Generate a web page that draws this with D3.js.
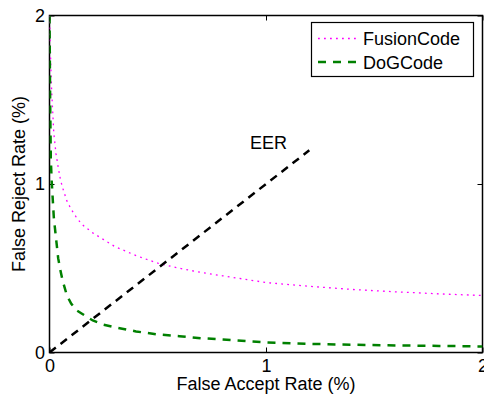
<!DOCTYPE html>
<html>
<head>
<meta charset="utf-8">
<script src="https://cdn.jsdelivr.net/npm/d3@7"></script>
<style>
  body { margin: 0; background: #fff; }
  svg { display: block; }
  text { font-family: "Liberation Sans", Arial, sans-serif; fill: #000; }
</style>
</head>
<body>
<svg id="chart" width="484" height="398"></svg>
<script>
// false accept rate grid (%)
const far = [0, 0.003, 0.006, 0.01, 0.02, 0.03, 0.04, 0.05, 0.06, 0.08, 0.1, 0.125, 0.15, 0.2, 0.25, 0.3, 0.4, 0.5, 0.6, 0.7, 0.8, 1.0, 1.2, 1.4, 1.6, 1.8, 2.0];
// false reject rate (%)
const fusionFrr = [2.0, 1.85, 1.7, 1.55, 1.3, 1.18, 1.1, 1.03, 0.98, 0.9, 0.85, 0.8, 0.76, 0.71, 0.67, 0.63, 0.575, 0.53, 0.5, 0.475, 0.455, 0.415, 0.393, 0.374, 0.36, 0.348, 0.338];
const dogFrr = [2.0, 1.5, 1.15, 1.02, 0.8, 0.68, 0.56, 0.49, 0.43, 0.34, 0.29, 0.25, 0.23, 0.19, 0.165, 0.15, 0.125, 0.107, 0.097, 0.085, 0.077, 0.06, 0.051, 0.046, 0.042, 0.039, 0.036];
const eer = [[0, 0], [1.2, 1.2]];
const ticks = [0, 1, 2];
const legendItems = ["FusionCode", "DoGCode"];

var svg = d3.select("#chart");
var mLeft = 49.5, mTop = 15.5, mRight = 482.5, mBottom = 352.5;
var fontSize = 18;

var x = d3.scaleLinear().domain([0, 2]).range([mLeft, mRight]);
var y = d3.scaleLinear().domain([0, 2]).range([mBottom, mTop]);

svg.append("clipPath").attr("id", "plotclip")
  .append("rect").attr("x", mLeft).attr("y", mTop)
  .attr("width", mRight - mLeft).attr("height", mBottom - mTop);

// axes, ticks inside like matlab
svg.append("g").attr("transform", "translate(0," + mBottom + ")")
  .call(d3.axisBottom(x).tickValues(ticks).tickSizeInner(-5).tickSizeOuter(0).tickPadding(7).tickFormat(d3.format("d")))
  .call(g => g.select(".domain").remove())
  .call(g => g.selectAll("text").attr("font-size", fontSize).attr("font-family", "Liberation Sans, Arial, sans-serif"));
svg.append("g").attr("transform", "translate(0," + mTop + ")")
  .call(d3.axisTop(x).tickValues(ticks).tickSizeInner(-5).tickSizeOuter(0).tickFormat(""))
  .call(g => g.select(".domain").remove());
svg.append("g").attr("transform", "translate(" + mLeft + ",0)")
  .call(d3.axisLeft(y).tickValues(ticks).tickSizeInner(-5).tickSizeOuter(0).tickPadding(4.5).tickFormat(d3.format("d")))
  .call(g => g.select(".domain").remove())
  .call(g => g.selectAll("text").attr("font-size", fontSize).attr("font-family", "Liberation Sans, Arial, sans-serif"));
svg.append("g").attr("transform", "translate(" + mRight + ",0)")
  .call(d3.axisRight(y).tickValues(ticks).tickSizeInner(-5).tickSizeOuter(0).tickFormat(""))
  .call(g => g.select(".domain").remove());

svg.selectAll(".tick line").attr("stroke", "#000");

svg.append("rect")
  .attr("x", mLeft).attr("y", mTop)
  .attr("width", mRight - mLeft).attr("height", mBottom - mTop)
  .attr("fill", "none").attr("stroke", "#000").attr("stroke-width", 1.5);

var line = d3.line().x(d => x(d[0])).y(d => y(d[1]));
var plot = svg.append("g").attr("clip-path", "url(#plotclip)");

plot.append("path")
  .datum(far.map((f, i) => [f, fusionFrr[i]]))
  .attr("d", line)
  .attr("fill", "none").attr("stroke", "#ff00ff")
  .attr("stroke-width", 1.3).attr("stroke-dasharray", "1.8,4.2");

plot.append("path")
  .datum(far.map((f, i) => [f, dogFrr[i]]))
  .attr("d", line)
  .attr("fill", "none").attr("stroke", "#008000")
  .attr("stroke-width", 2.5).attr("stroke-dasharray", "8,7");

plot.append("path")
  .datum(eer)
  .attr("d", line)
  .attr("fill", "none").attr("stroke", "#000")
  .attr("stroke-width", 2.5).attr("stroke-dasharray", "8,6");

svg.append("text")
  .attr("x", 250).attr("y", y(1.21))
  .attr("font-size", fontSize)
  .text("EER");

// legend
var lg = svg.append("g");
lg.append("rect")
  .attr("x", 311.5).attr("y", 22.5).attr("width", 162).attr("height", 54)
  .attr("fill", "#fff").attr("stroke", "#000").attr("stroke-width", 1.2);
var styles = [
  { stroke: "#ff00ff", w: 1.3, dash: "1.8,4.2" },
  { stroke: "#008000", w: 2.5, dash: "8,7" }
];
legendItems.forEach(function(name, i) {
  var yy = 38.5 + i * 23.5;
  lg.append("line")
    .attr("x1", 318).attr("x2", 357).attr("y1", yy).attr("y2", yy)
    .attr("stroke", styles[i].stroke).attr("stroke-width", styles[i].w)
    .attr("stroke-dasharray", styles[i].dash);
  lg.append("text")
    .attr("x", 363).attr("y", yy + 6.5)
    .attr("font-size", fontSize)
    .text(name);
});

// axis titles
svg.append("text")
  .attr("x", x(1)).attr("y", 390)
  .attr("text-anchor", "middle").attr("font-size", fontSize)
  .text("False Accept Rate (%)");
svg.append("text")
  .attr("transform", "translate(25," + y(1) + ") rotate(-90)")
  .attr("text-anchor", "middle").attr("font-size", fontSize)
  .text("False Reject Rate (%)");
</script>
</body>
</html>
